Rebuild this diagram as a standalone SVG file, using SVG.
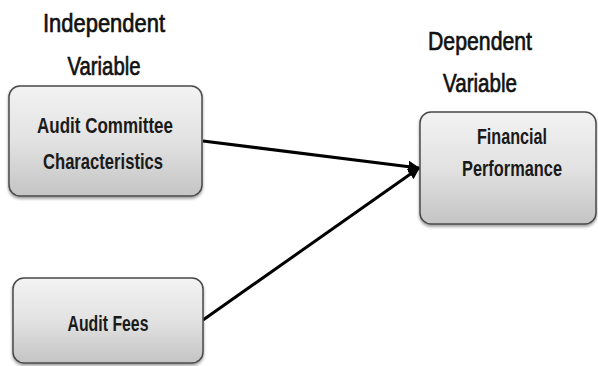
<svg xmlns="http://www.w3.org/2000/svg" width="598" height="366" viewBox="0 0 598 366">
<style>
.h{font-family:"Liberation Sans",Arial,sans-serif;font-size:26px;fill:#111;stroke:#111;stroke-width:0.7;}
.t{font-family:"Liberation Sans",Arial,sans-serif;font-size:22px;font-weight:bold;fill:#1a1a1a;}
.box{fill:url(#g);stroke:#4a4a4a;stroke-width:1.5;filter:url(#sh);}
.conn{stroke:#000;stroke-width:3;fill:none;marker-end:url(#ar);}
</style>
<defs>
<linearGradient id="g" x1="0" y1="0" x2="0" y2="1">
<stop offset="0" stop-color="#f3f3f3"/>
<stop offset="0.5" stop-color="#e2e2e2"/>
<stop offset="1" stop-color="#c4c4c4"/>
</linearGradient>
<filter id="sh" x="-10%" y="-10%" width="120%" height="130%">
<feGaussianBlur in="SourceAlpha" stdDeviation="1.5"/>
<feOffset dx="0" dy="2" result="b"/>
<feComponentTransfer><feFuncA type="linear" slope="0.4"/></feComponentTransfer>
<feMerge><feMergeNode/><feMergeNode in="SourceGraphic"/></feMerge>
</filter>
<marker id="ar" viewBox="0 0 10 10" refX="9" refY="5" markerWidth="4" markerHeight="4" orient="auto" markerUnits="strokeWidth">
<path d="M0,0 L10,5 L0,10 z" fill="#000"/>
</marker>
</defs>
<g id="labels">
<text class="h" x="104" y="32" text-anchor="middle" textLength="122" lengthAdjust="spacingAndGlyphs">Independent</text>
<text class="h" x="104" y="75" text-anchor="middle" textLength="73" lengthAdjust="spacingAndGlyphs">Variable</text>
<text class="h" x="480" y="50" text-anchor="middle" textLength="104" lengthAdjust="spacingAndGlyphs">Dependent</text>
<text class="h" x="480" y="92" text-anchor="middle" textLength="74" lengthAdjust="spacingAndGlyphs">Variable</text>
</g>
<g id="connectors">
<line class="conn" x1="203" y1="141" x2="419" y2="168"/>
<line class="conn" x1="203" y1="320" x2="419" y2="168"/>
</g>
<g id="node-acc">
<rect class="box" x="9" y="86" width="193" height="110" rx="11"/>
<text class="t" x="105" y="133" text-anchor="middle" textLength="136" lengthAdjust="spacingAndGlyphs">Audit Committee</text>
<text class="t" x="103" y="169" text-anchor="middle" textLength="120" lengthAdjust="spacingAndGlyphs">Characteristics</text>
</g>
<g id="node-fees">
<rect class="box" x="13" y="278" width="190" height="85" rx="11"/>
<text class="t" x="108" y="331" text-anchor="middle" textLength="81" lengthAdjust="spacingAndGlyphs">Audit Fees</text>
</g>
<g id="node-fp">
<rect class="box" x="420" y="112" width="176" height="112" rx="11"/>
<text class="t" x="512" y="144" text-anchor="middle" textLength="70" lengthAdjust="spacingAndGlyphs">Financial</text>
<text class="t" x="512" y="176" text-anchor="middle" textLength="100" lengthAdjust="spacingAndGlyphs">Performance</text>
</g>
</svg>
